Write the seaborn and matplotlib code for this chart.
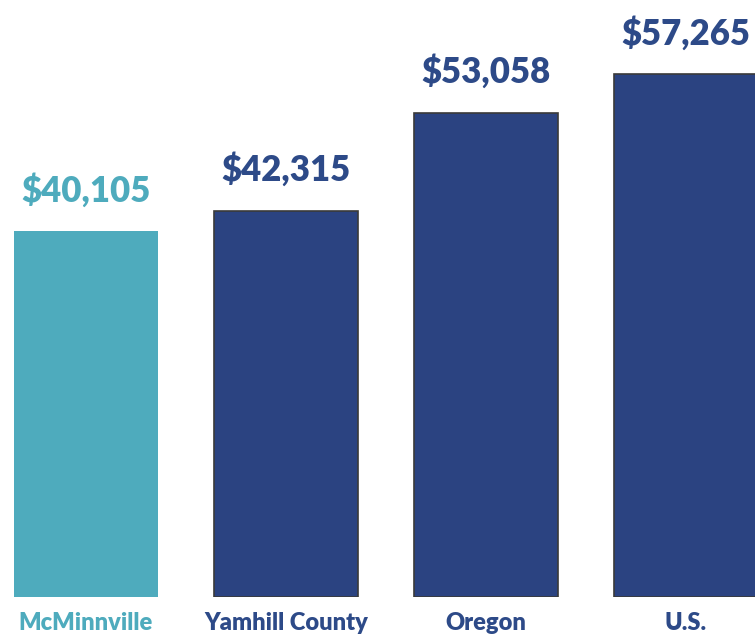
import pandas as pd
import seaborn as sns
import matplotlib.pyplot as plt

# Median household income by area
places = ["McMinnville", "Yamhill County", "Oregon", "U.S."]
incomes = [40105, 42315, 53058, 57265]
bar_colors = ["#4EABBD", "#2B4381", "#2B4381", "#2B4381"]
text_colors = ["#4EABBD", "#2D4A88", "#2D4A88", "#2D4A88"]

df = pd.DataFrame({"place": places, "income": incomes})

sns.set_style("white")
plt.rcParams["font.family"] = ["Lato", "DejaVu Sans"]

fig = plt.figure(figsize=(7.55, 6.35), dpi=100)
ax = fig.add_axes([0, 38 / 635, 1, 597 / 635])

sns.barplot(data=df, x="place", y="income", hue="place", saturation=1,
            palette=bar_colors, width=0.72, legend=False, ax=ax)

# navy bars have a thin dark outline, the teal one does not
for i, patch in enumerate(ax.patches):
    if i == 0:
        patch.set_edgecolor("none")
    else:
        patch.set_edgecolor("#3a3a3a")
        patch.set_linewidth(1.2)

for i, (val, col) in enumerate(zip(incomes, text_colors)):
    ax.annotate(f"${val:,}", (i, val), xytext=(0, 17), textcoords="offset points",
                ha="center", va="bottom", fontsize=25, fontweight="heavy", color=col)

ax.set_xlim(-0.43, 3.345)
ax.set_ylim(0, 65400)
ax.set_xlabel("")
ax.set_ylabel("")
ax.set_yticks([])
ax.tick_params(axis="x", length=0, pad=11)
ax.set_xticks(range(len(places)))
ax.set_xticklabels(places, fontsize=17, fontweight="heavy")
for lbl, col in zip(ax.get_xticklabels(), text_colors):
    lbl.set_color(col)
sns.despine(ax=ax, left=True, bottom=True)

fig.savefig("out.png", dpi=100)
